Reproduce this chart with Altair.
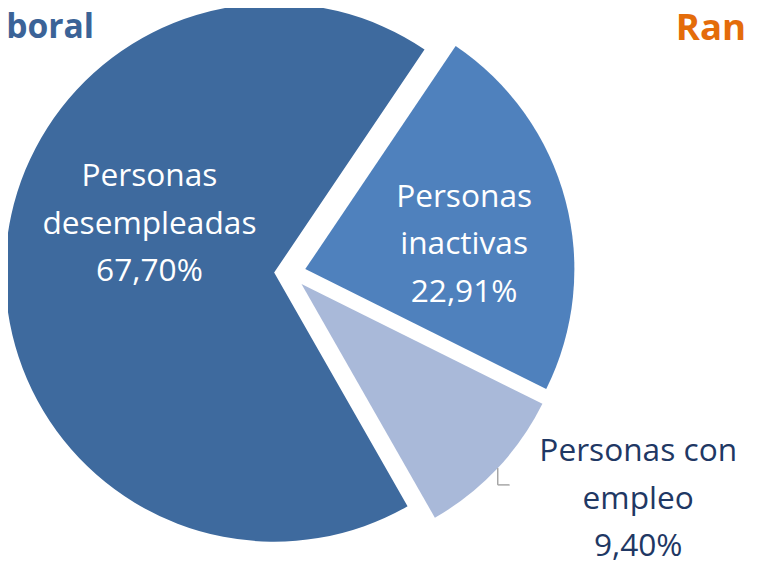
import math
import altair as alt
import pandas as pd

# ---- data ----
categories = ["Personas inactivas", "Personas con empleo", "Personas desempleadas"]
values = [22.91, 9.40, 67.70]
labels = ["Personas\ninactivas\n22,91%", "Personas con\nempleo\n9,40%", "Personas\ndesempleadas\n67,70%"]
colors = ["#4F81BD", "#A9B9D9", "#3E6A9E"]
title_left = "boral"
title_right = "Ran"

df = pd.DataFrame({"cat": categories, "value": values, "idx": list(range(len(categories)))})

CX, CY, R, EXPLODE = 285, 265, 272, 16
OFFSET = 0.593  # start angle in radians

base = alt.Chart(df).transform_joinaggregate(
    total="sum(value)"
).transform_window(
    cum="sum(value)", sort=[alt.SortField("idx")], frame=[None, 0]
).transform_calculate(
    start=f"{OFFSET} + 2*PI*(datum.cum - datum.value)/datum.total",
    end=f"{OFFSET} + 2*PI*datum.cum/datum.total",
).transform_calculate(
    mid="(datum.start + datum.end)/2"
).transform_calculate(
    px=f"{CX} + {EXPLODE}*sin(datum.mid)",
    py=f"{CY} - {EXPLODE}*cos(datum.mid)",
)

pie = base.mark_arc(outerRadius=R, stroke=None).encode(
    x=alt.X("px:Q", scale=None),
    y=alt.Y("py:Q", scale=None),
    theta=alt.Theta("start:Q", scale=None),
    theta2="end:Q",
    color=alt.Color("cat:N", scale=alt.Scale(domain=categories, range=colors), legend=None),
)

FONT = "Open Sans"
def label(i, x, y, color):
    return alt.Chart(pd.DataFrame({"t": [labels[i]]})).mark_text(
        font=FONT, fontSize=32, lineHeight=48, lineBreak="\n", align="center",
        baseline="middle", color=color
    ).encode(x=alt.value(x), y=alt.value(y), text="t:N")

lab_inact = label(0, 461, 188, "white")
lab_emp = label(1, 637, 445, "#1F3864")
lab_des = label(2, 143, 167, "white")

leader1 = alt.Chart(pd.DataFrame({"a": [0]})).mark_rule(color="#A6A6A6", strokeWidth=1.5).encode(
    x=alt.value(495), y=alt.value(462), y2=alt.value(479))
leader2 = alt.Chart(pd.DataFrame({"a": [0]})).mark_rule(color="#A6A6A6", strokeWidth=1.5).encode(
    x=alt.value(495), x2=alt.value(507), y=alt.value(479))

t_left = alt.Chart(pd.DataFrame({"t": [title_left]})).mark_text(
    font=FONT, fontSize=34, fontWeight="bold", align="right", baseline="alphabetic", color="#3B6397"
).encode(x=alt.value(87), y=alt.value(27), text="t:N")
t_right = alt.Chart(pd.DataFrame({"t": [title_right]})).mark_text(
    font=FONT, fontSize=37, fontWeight="bold", align="left", baseline="alphabetic", color="#E46C0A"
).encode(x=alt.value(675), y=alt.value(29), text="t:N")

chart = alt.layer(pie, lab_inact, lab_emp, lab_des, leader1, leader2, t_left, t_right).properties(
    width=751, height=561, autosize=alt.AutoSizeParams(type="none"), padding=0
).configure_view(stroke=None)

chart.save("out.html", embed_options={"renderer": "svg", "actions": False})
